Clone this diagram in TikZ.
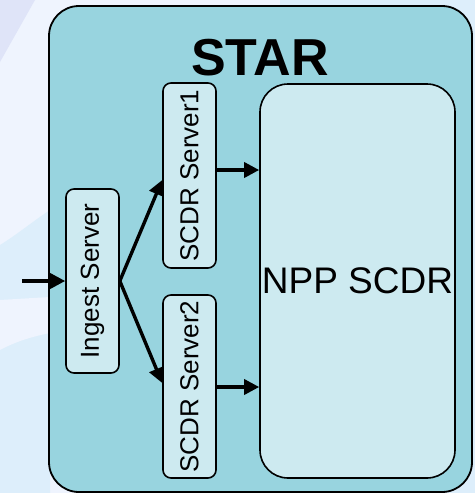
\documentclass[tikz,border=0pt]{standalone}
\usepackage{fontspec}
\setmainfont{Liberation Sans}
\usetikzlibrary{arrows.meta}
\definecolor{bgA}{HTML}{EFF4FE}
\definecolor{bgB}{HTML}{DFE4F8}
\definecolor{bgC}{HTML}{DDEEFB}
\definecolor{outerfill}{HTML}{98D4DF}
\definecolor{innerfill}{HTML}{CDEAF0}
\tikzset{
  outerbox/.style={draw=black, line width=1.8pt, fill=outerfill, rounded corners=30pt, inner sep=0pt},
  srvbox/.style={draw=black, line width=1.6pt, fill=innerfill, rounded corners=8pt, inner sep=0pt,
                 font=\fontsize{26}{30}\selectfont},
  bigbox/.style={draw=black, line width=1.6pt, fill=innerfill, rounded corners=28pt, inner sep=0pt,
                 font=\fontsize{37}{42}\selectfont},
  arr/.style={line width=3.4pt, -{Triangle[length=15pt,width=15pt]}},
}
\begin{document}
\begin{tikzpicture}[x=1pt,y=-1pt]
\useasboundingbox (0,0) rectangle (475,493);
% background
\fill[bgA] (0,0) rectangle (475,493);
\fill[bgC] (280,0) -- (475,0) -- (475,493) -- (280,493) -- cycle;
\fill[bgB] (0,0) -- (35,0) -- (0,62) -- cycle;
\fill[bgC] (0,245) .. controls (15,236) and (32,222) .. (50,210) -- (50,493) -- (0,493) -- cycle;
\fill[bgA] (0,300) -- (50,297) -- (50,333) .. controls (30,337) and (15,342) .. (0,350) -- cycle;
% boxes
\node[outerbox, minimum width=423pt, minimum height=486pt] (star) at (260.5,249) {};
\node[font=\fontsize{52}{56}\selectfont\bfseries] (title) at (260,58) {STAR};
\node[bigbox, minimum width=195pt, minimum height=394pt] (npp) at (357.5,281) {NPP SCDR};
\node[srvbox, minimum width=53pt, minimum height=184pt] (ingest) at (92.5,281) {\rotatebox{90}{Ingest Server}};
\node[srvbox, minimum width=53pt, minimum height=185pt] (scdr1) at (189.5,175.5) {\rotatebox{90}{SCDR Server1}};
\node[srvbox, minimum width=53pt, minimum height=183pt] (scdr2) at (189.5,386.5) {\rotatebox{90}{SCDR Server2}};
% connectors
\coordinate (in) at (22,281);
\draw[arr] (in) -- (ingest.west);
\draw[arr] (ingest.east) -- ([yshift=-4.5pt]scdr1.west);
\draw[arr] (ingest.east) -- ([yshift=3.5pt]scdr2.west);
\draw[arr] ([yshift=5.5pt]scdr1.east) -- ([yshift=5.5pt]scdr1.east -| npp.west);
\draw[arr] ([yshift=-0.5pt]scdr2.east) -- ([yshift=-0.5pt]scdr2.east -| npp.west);
\end{tikzpicture}
\end{document}
